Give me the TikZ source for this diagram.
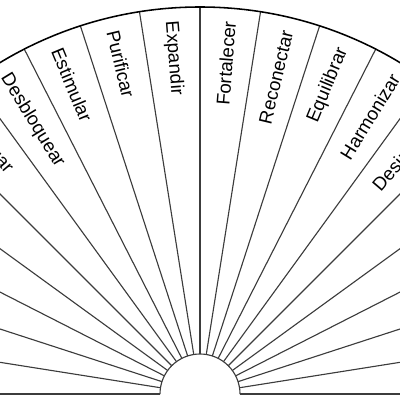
\documentclass[tikz,border=0pt]{standalone}
\usepackage{fontspec}
\setmainfont{Liberation Sans}
\definecolor{spokegray}{RGB}{60,60,60}
\begin{document}
\begin{tikzpicture}[x=0.025cm,y=0.025cm,
  spoke/.style={draw=spokegray, line width=0.8pt},
  rim/.style={draw=black, line width=1.1pt},
  lbl/.style={font=\fontsize{13.3}{15}\selectfont, inner sep=0pt}]
\useasboundingbox (0,0) rectangle (400,400);
\clip (0,0) rectangle (400,400);
\coordinate (c) at (200,6);
% spokes
\foreach \a in {0,9,...,180}
  \draw[spoke] ([shift={(\a:40)}]c) -- ([shift={(\a:387)}]c);
% inner arc
\draw[spoke] ([shift={(0:40)}]c) arc[start angle=0, end angle=180, radius=40];
% outer arc
\draw[rim] ([shift={(0:387)}]c) arc[start angle=0, end angle=180, radius=387];
% labels, right half (reading outward)
\foreach \t/\a/\n in {Desintoxicar/49.5/r5, Harmonizar/58.5/r6, Equilibrar/67.5/r7, Reconectar/76.5/r8, Fortalecer/85.5/r9}
  \node[lbl, rotate=\a, anchor=east] (\n) at ([shift={(\a:374)}]c) {\t};
% labels, left half (reading inward)
\foreach \t/\a/\n in {Expandir/94.5/l10, Purificar/103.5/l11, Estimular/112.5/l12, Desbloquear/121.5/l13, Energizar/130.5/l14}
  \node[lbl, rotate=\a-180, anchor=west] (\n) at ([shift={(\a:374)}]c) {\t};
\end{tikzpicture}
\end{document}
